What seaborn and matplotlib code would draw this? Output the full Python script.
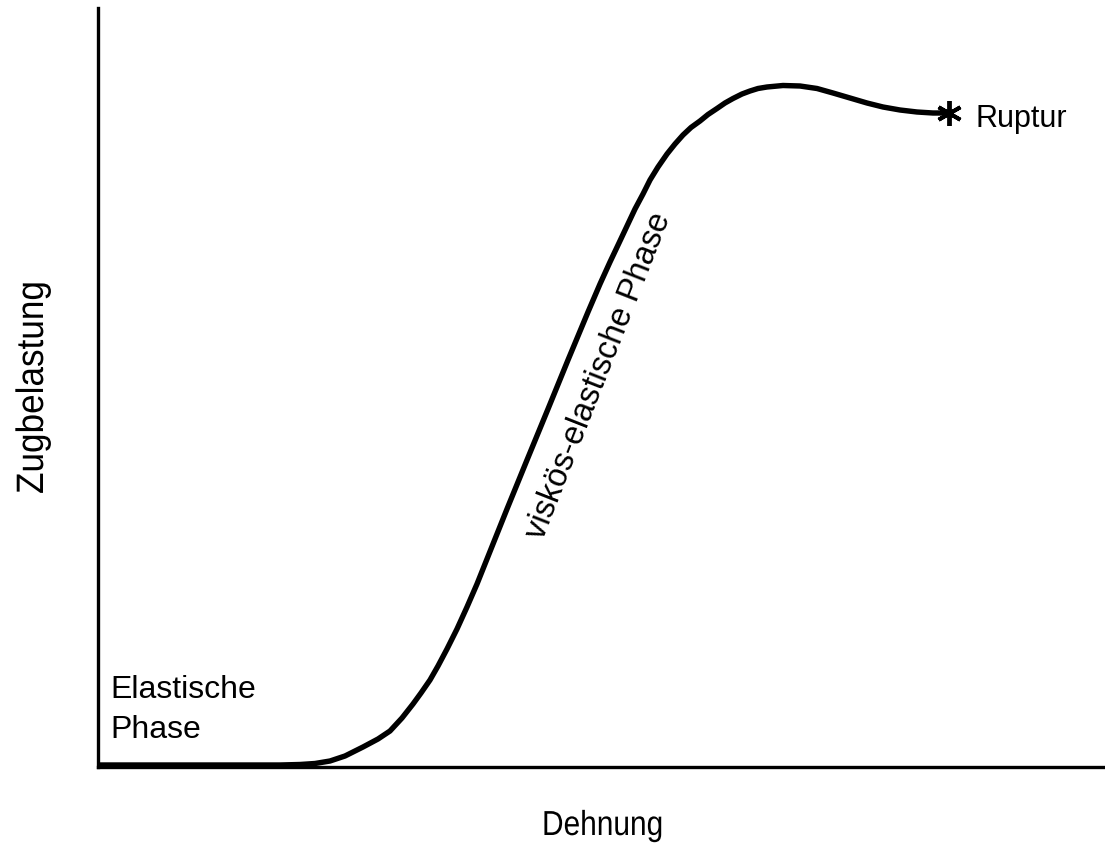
import numpy as np
import pandas as pd
import matplotlib
matplotlib.use("Agg")
import matplotlib.pyplot as plt
import seaborn as sns
from matplotlib.patheffects import AbstractPathEffect
from matplotlib.transforms import Affine2D

# Data (arbitrary units: strain vs. tensile load)
dehnung = [0, 102, 182, 202, 217, 232, 247, 265, 280, 292,
           304, 315, 323, 332, 340, 349, 359, 369, 379, 389,
           399, 409, 429, 450, 470, 490, 502, 512, 521, 529,
           537, 545, 552, 560, 569, 577, 585, 593, 602, 610,
           619, 627, 635, 644, 652, 660, 669, 685, 702, 719,
           735, 752, 769, 785, 802, 819, 835, 849]
zugbelastung = [2, 2, 2, 2.5, 3.5, 6, 11, 20, 28, 36,
                49, 63, 74, 87, 101, 118, 138, 160, 183, 208,
                233, 258, 307, 358, 407, 455, 483, 505, 524, 541,
                558, 573, 587, 600, 613, 623, 632, 639.5, 646, 652.5,
                658.5, 664, 668.5, 673, 676, 678.5, 680, 681.5, 681, 678.5,
                674, 669, 664, 660, 657, 655, 654, 654]
ruptur_x = [851]
ruptur_y = [654]


class Condense(AbstractPathEffect):
    """Narrow the glyphs along the baseline (the reference uses a condensed face)."""
    def __init__(self, sx):
        super().__init__()
        self._sx = sx

    def draw_path(self, renderer, gc, tpath, affine, rgbFace=None):
        renderer.draw_path(gc, tpath, Affine2D().scale(self._sx, 1.0) + affine, rgbFace)


df = pd.DataFrame({"Dehnung": dehnung, "Zugbelastung": zugbelastung})

sns.set_theme(style="white")
plt.rcParams["font.family"] = ["Liberation Sans", "DejaVu Sans"]
plt.rcParams["text.color"] = "black"

fig = plt.figure(figsize=(11.05, 8.44), dpi=100)
ax = fig.add_axes([98 / 1105, 77 / 844, 1007 / 1105, 759 / 844])

sns.lineplot(data=df, x="Dehnung", y="Zugbelastung", ax=ax, color="black",
             linewidth=3.9, sort=False, estimator=None)
ax.plot(ruptur_x, ruptur_y, linestyle="none", marker=(6, 2, 0), markersize=18,
        markeredgewidth=2.8, color="black")

ax.set_xlim(0, 1007)
ax.set_ylim(0, 759)
ax.set_xticks([])
ax.set_yticks([])
ax.set_xlabel("")
ax.set_ylabel("")
for s in ["top", "right"]:
    ax.spines[s].set_visible(False)
for s in ["left", "bottom"]:
    ax.spines[s].set_color("black")
    ax.spines[s].set_linewidth(2.4)

# axis titles (condensed face)
fig.text(542 / 1105, 9 / 844, "Dehnung", fontsize=25, ha="left", va="baseline",
         path_effects=[Condense(0.86)])
fig.text(43 / 1105, (844 - 494) / 844, "Zugbelastung", fontsize=27.5, rotation=90,
         rotation_mode="anchor", ha="left", va="baseline",
         path_effects=[Condense(0.92)])

ax.text(877, 640, "Ruptur", fontsize=22, ha="left", va="baseline")
ax.text(12, 69, "Elastische", fontsize=23, ha="left", va="baseline")
ax.text(12, 29, "Phase", fontsize=23, ha="left", va="baseline")
ax.text(501, 391, "viskös-elastische Phase", fontsize=23.5, rotation=68.5,
        rotation_mode="anchor", ha="center", va="center", fontstyle="normal")

fig.savefig("out.png", dpi=100)
